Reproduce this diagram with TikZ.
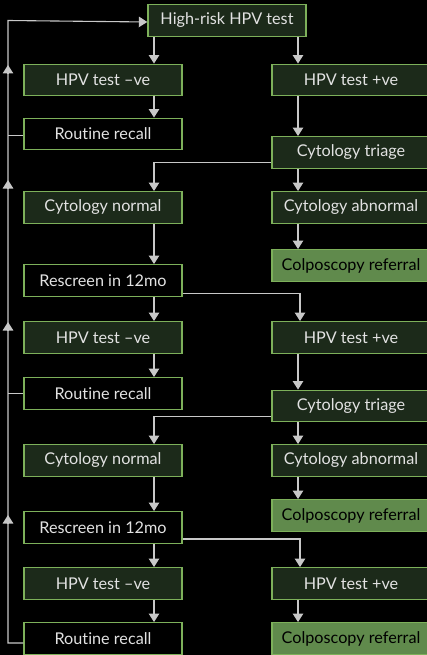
\documentclass[tikz,border=0pt]{standalone}
\usepackage{fontspec}
\setmainfont{Lato}[Ligatures={NoCommon}]
\usetikzlibrary{arrows.meta,positioning}
\definecolor{bgblack}{HTML}{000000}
\definecolor{boxfill}{HTML}{1C2A1A}
\definecolor{boxedge}{HTML}{7DB05A}
\definecolor{refill}{HTML}{608A4C}
\definecolor{txtlight}{HTML}{E2E2E2}
\definecolor{flowgray}{HTML}{C8C8C8}
\tikzset{
  stepbox/.style={draw=boxedge,line width=1.4pt,fill=boxfill,text=txtlight,minimum width=158pt,minimum height=31.5pt,inner sep=2pt,font=\fontsize{16.2}{18}\selectfont},
  recallbox/.style={stepbox,fill=bgblack},
  referbox/.style={stepbox,fill=refill,text=black},
  flow/.style={draw=flowgray,line width=1.1pt,-{Triangle[width=10.5pt,length=8.5pt]}},
  loopline/.style={draw=flowgray,line width=1.1pt}
}
\begin{document}
\begin{tikzpicture}[x=1pt,y=-1pt]
  \fill[bgblack] (0,0) rectangle (427,655);
  \useasboundingbox (0,0) rectangle (427,655);
  \clip (0,0) rectangle (427,655);
  % columns of arrows
  \coordinate (xl) at (154,0);
  \coordinate (xr) at (298,0);
  \coordinate (xr2) at (300,0);
  \coordinate (lx) at (8,0);

  % top
  \node[stepbox] (top) at (227,20.5) {High-risk HPV test};
  % first round
  \node[stepbox] (neg1) at (103,80) {HPV test --ve};
  \node[stepbox] (pos1) at (351,80) {HPV test +ve};
  \node[recallbox] (rec1) at (103,134) {Routine recall};
  \node[stepbox] (tri1) at (351,152.5) {Cytology triage};
  \node[stepbox] (nor1) at (103,207.5) {Cytology normal};
  \node[stepbox] (abn1) at (351,207.5) {Cytology abnormal};
  \node[referbox] (col1) at (351,265.5) {Colposcopy referral};
  \node[recallbox] (res1) at (103,280.5) {Rescreen in 12mo};
  % second round
  \node[stepbox] (neg2) at (103,337.5) {HPV test --ve};
  \node[stepbox] (pos2) at (351,337.5) {HPV test +ve};
  \node[recallbox] (rec2) at (103,393.5) {Routine recall};
  \node[stepbox] (tri2) at (351,406) {Cytology triage};
  \node[stepbox] (nor2) at (103,460.5) {Cytology normal};
  \node[stepbox] (abn2) at (351,460.5) {Cytology abnormal};
  \node[referbox] (col2) at (351,515.5) {Colposcopy referral};
  \node[recallbox] (res2) at (103,527.5) {Rescreen in 12mo};
  % third round
  \node[stepbox] (neg3) at (103,583.5) {HPV test --ve};
  \node[stepbox] (pos3) at (351,583.5) {HPV test +ve};
  \node[recallbox] (rec3) at (103,638.5) {Routine recall};
  \node[referbox] (col3) at (351,638.5) {Colposcopy referral};

  % straight arrows
  \foreach \a/\b in {top/neg1,neg1/rec1,nor1/res1,res1/neg2,neg2/rec2,nor2/res2,res2/neg3,neg3/rec3}
    \draw[flow] (\a.south -| xl) -- (\b.north -| xl);
  \foreach \a/\b in {top/pos1,pos1/tri1,tri1/abn1,abn1/col1,pos2/tri2,tri2/abn2,abn2/col2,pos3/col3}
    \draw[flow] (\a.south -| xr) -- (\b.north -| xr);

  % elbow arrows
  \draw[flow] ([yshift=6pt]tri1.south west) -| (nor1.north -| xl);
  \draw[flow] ([yshift=6pt]tri2.south west) -| (nor2.north -| xl);
  \draw[flow] ([yshift=3.4pt]res1.south east) -| (pos2.north -| xr2);
  \draw[flow] ([yshift=5pt]res2.south east) -| (pos3.north -| xr2);

  % recall loop back to the top
  \draw[flow] ([yshift=-4.5pt]rec3.west) -| (lx |- top.west) -- ([yshift=-1.5pt]top.west);
  \draw[loopline] ([yshift=-1.7pt]rec1.west) -- ([yshift=-1.7pt]rec1.west -| lx);
  \draw[loopline] (rec2.west) -- (rec2.west -| lx);
  \foreach \y in {65,180,322,515}
    \draw[flow] (8,\y+8) -- (8,\y);
\end{tikzpicture}
\end{document}
